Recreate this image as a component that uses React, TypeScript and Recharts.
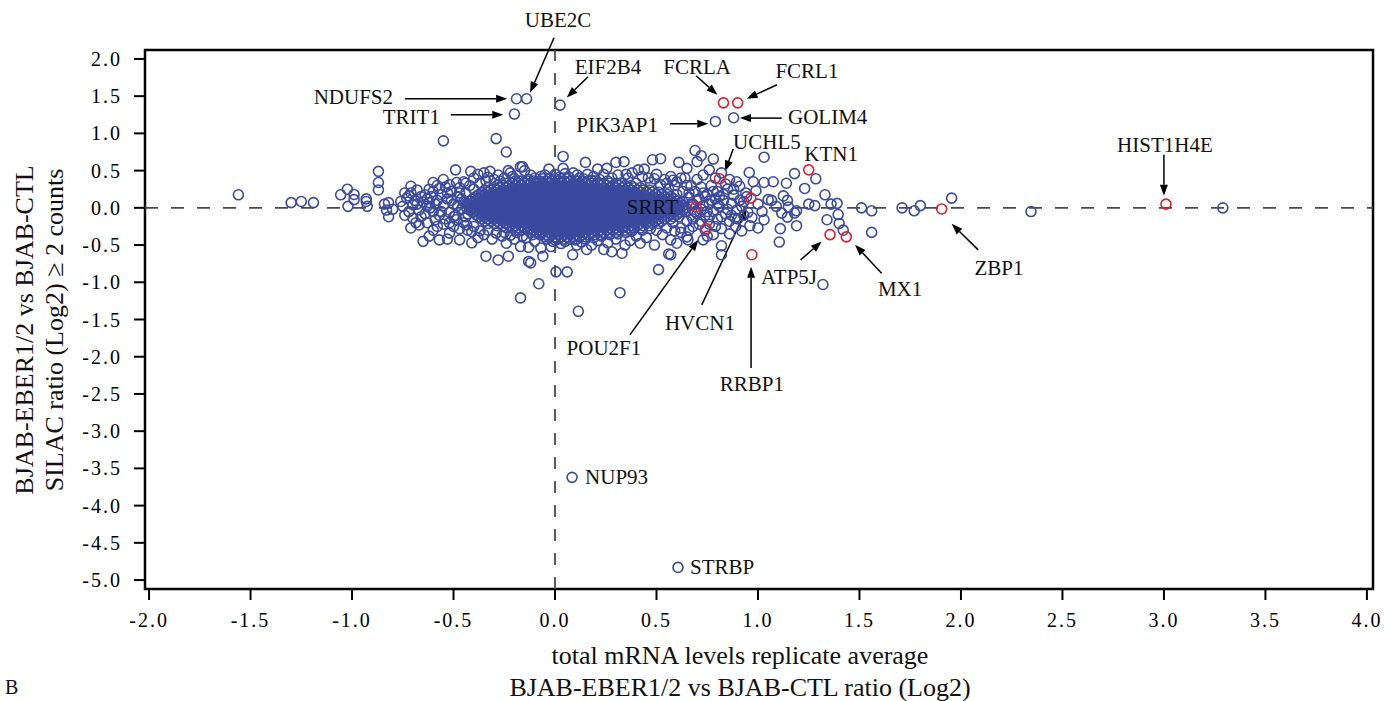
import { ScatterChart, Scatter, XAxis, YAxis, ReferenceLine, ReferenceDot, ReferenceArea } from "recharts";

const SERIF = "'Liberation Serif', 'Times New Roman', serif";
const BLUE = "#3b4a9e";
const RED = "#e0202b";

const xTicks = [-2, -1.5, -1, -0.5, 0, 0.5, 1, 1.5, 2, 2.5, 3, 3.5, 4];
const yTicks = [2, 1.5, 1, 0.5, 0, -0.5, -1, -1.5, -2, -2.5, -3, -3.5, -4, -4.5, -5];

// dense centre of the cloud, read row by row: [y, x values]
const coreRows: [number, number[]][] = [
  [0.39, [-.06, -.03, 0, .03, .06]],
  [0.36, [-.195, -.165, -.135, -.105, -.075, -.045, -.015, .015, .045, .075, .105, .135, .165, .195]],
  [0.33, [-.24, -.21, -.18, -.15, -.12, -.09, -.06, -.03, 0, .03, .06, .09, .12, .15, .18, .21, .24, .27, .3]],
  [0.3, [-.285, -.255, -.225, -.195, -.165, -.135, -.105, -.075, -.045, -.015, .015, .045, .075, .105, .135, .165, .195, .225, .255, .285, .315, .345, .375]],
  [0.27, [-.33, -.3, -.27, -.24, -.21, -.18, -.15, -.12, -.09, -.06, -.03, 0, .03, .06, .09, .12, .15, .18, .21, .24, .27, .3, .33, .36, .39, .42]],
  [0.24, [-.345, -.315, -.285, -.255, -.225, -.195, -.165, -.135, -.105, -.075, -.045, -.015, .015, .045, .075, .105, .135, .165, .195, .225, .255, .285, .315, .345, .375, .405, .435, .465]],
  [0.21, [-.36, -.33, -.3, -.27, -.24, -.21, -.18, -.15, -.12, -.09, -.06, -.03, 0, .03, .06, .09, .12, .15, .18, .21, .24, .27, .3, .33, .36, .39, .42, .45, .48, .51]],
  [0.18, [-.375, -.345, -.315, -.285, -.255, -.225, -.195, -.165, -.135, -.105, -.075, -.045, -.015, .015, .045, .075, .105, .135, .165, .195, .225, .255, .285, .315, .345, .375, .405, .435, .465, .495, .525, .555]],
  [0.15, [-.39, -.36, -.33, -.3, -.27, -.24, -.21, -.18, -.15, -.12, -.09, -.06, -.03, 0, .03, .06, .09, .12, .15, .18, .21, .24, .27, .3, .33, .36, .39, .42, .45, .48, .51, .54, .57]],
  [0.12, [-.405, -.375, -.345, -.315, -.285, -.255, -.225, -.195, -.165, -.135, -.105, -.075, -.045, -.015, .015, .045, .075, .105, .135, .165, .195, .225, .255, .285, .315, .345, .375, .405, .435, .465, .495, .525, .555, .585]],
  [0.09, [-.42, -.39, -.36, -.33, -.3, -.27, -.24, -.21, -.18, -.15, -.12, -.09, -.06, -.03, 0, .03, .06, .09, .12, .15, .18, .21, .24, .27, .3, .33, .36, .39, .42, .45, .48, .51, .54, .57, .6]],
  [0.06, [-.435, -.405, -.375, -.345, -.315, -.285, -.255, -.225, -.195, -.165, -.135, -.105, -.075, -.045, -.015, .015, .045, .075, .105, .135, .165, .195, .225, .255, .285, .315, .345, .375, .405, .435, .465, .495, .525, .555, .585, .615]],
  [0.03, [-.42, -.39, -.36, -.33, -.3, -.27, -.24, -.21, -.18, -.15, -.12, -.09, -.06, -.03, 0, .03, .06, .09, .12, .15, .18, .21, .24, .27, .3, .33, .36, .39, .42, .45, .48, .51, .54, .57, .6, .63]],
  [0, [-.435, -.405, -.375, -.345, -.315, -.285, -.255, -.225, -.195, -.165, -.135, -.105, -.075, -.045, -.015, .015, .045, .075, .105, .135, .165, .195, .225, .255, .285, .315, .345, .375, .405, .435, .465, .495, .525, .555, .585, .615, .645]],
  [-0.03, [-.42, -.39, -.36, -.33, -.3, -.27, -.24, -.21, -.18, -.15, -.12, -.09, -.06, -.03, 0, .03, .06, .09, .12, .15, .18, .21, .24, .27, .3, .33, .36, .39, .42, .45, .48, .51, .54, .57, .6, .63]],
  [-0.06, [-.405, -.375, -.345, -.315, -.285, -.255, -.225, -.195, -.165, -.135, -.105, -.075, -.045, -.015, .015, .045, .075, .105, .135, .165, .195, .225, .255, .285, .315, .345, .375, .405, .435, .465, .495, .525, .555, .585, .615]],
  [-0.09, [-.39, -.36, -.33, -.3, -.27, -.24, -.21, -.18, -.15, -.12, -.09, -.06, -.03, 0, .03, .06, .09, .12, .15, .18, .21, .24, .27, .3, .33, .36, .39, .42, .45, .48, .51, .54, .57, .6]],
  [-0.12, [-.375, -.345, -.315, -.285, -.255, -.225, -.195, -.165, -.135, -.105, -.075, -.045, -.015, .015, .045, .075, .105, .135, .165, .195, .225, .255, .285, .315, .345, .375, .405, .435, .465, .495, .525, .555, .585]],
  [-0.15, [-.36, -.33, -.3, -.27, -.24, -.21, -.18, -.15, -.12, -.09, -.06, -.03, 0, .03, .06, .09, .12, .15, .18, .21, .24, .27, .3, .33, .36, .39, .42, .45, .48, .51, .54, .57]],
  [-0.18, [-.345, -.315, -.285, -.255, -.225, -.195, -.165, -.135, -.105, -.075, -.045, -.015, .015, .045, .075, .105, .135, .165, .195, .225, .255, .285, .315, .345, .375, .405, .435, .465, .495, .525]],
  [-0.21, [-.33, -.3, -.27, -.24, -.21, -.18, -.15, -.12, -.09, -.06, -.03, 0, .03, .06, .09, .12, .15, .18, .21, .24, .27, .3, .33, .36, .39, .42, .45, .48, .51]],
  [-0.24, [-.285, -.255, -.225, -.195, -.165, -.135, -.105, -.075, -.045, -.015, .015, .045, .075, .105, .135, .165, .195, .225, .255, .285, .315, .345, .375, .405, .435, .465]],
  [-0.27, [-.24, -.21, -.18, -.15, -.12, -.09, -.06, -.03, 0, .03, .06, .09, .12, .15, .18, .21, .24, .27, .3, .33, .36, .39, .42]],
  [-0.3, [-.195, -.165, -.135, -.105, -.075, -.045, -.015, .015, .045, .075, .105, .135, .165, .195, .225, .255, .285, .315, .345, .375]],
  [-0.33, [-.12, -.09, -.06, -.03, 0, .03, .06, .09, .12, .15, .18, .21, .24, .27, .3]],
  [-0.36, [-.075, -.045, -.015, .015, .045, .075, .105, .135, .165, .195, .225]],
  [-0.39, [-.03, 0, .03, .06, .09, .12, .15]],
  [-0.42, [.015, .045, .075, .105]],
];

const leftTail: [number, number][] = [
  [-1.56, .175], [-1.3, .07], [-1.25, .085], [-1.19, .07], [-1.056, .175], [-1.023, .25], [-.99, .18], [-.99, .11],
  [-1.02, .02], [-.93, .12], [-.93, .085], [-.925, .02], [-.87, .49], [-.87, .34], [-.87, .24], [-.84, .05],
  [-.82, .07], [-.83, -.03], [-.8, -.02], [-.82, -.12], [-.76, .085], [-.74, .2], [-.73, .13], [-.71, .29],
  [-.71, .2], [-.7, .04], [-.71, -.27], [-.685, -.2], [-.67, -.23], [-.65, -.45], [-.64, .175], [-.63, .12],
  [-.615, 0], [-.6, .34], [-.59, -.16], [-.6, -.05], [-.57, -.43], [-.53, -.42], [-.52, -.34], [-.49, .51],
  [-.485, .34], [-.47, -.43], [-.44, .33], [-.415, .49], [-.4, .4], [-.41, -.47], [-.485, -.16], [-.435, -.23],
  [-.41, -.32], [-.66, .15], [-.62, .07], [-.58, .1], [-.56, .18], [-.55, .03], [-.53, .12], [-.52, -.06],
  [-.51, .22], [-.5, .05], [-.49, -.1], [-.48, .15], [-.47, .27], [-.46, -.02], [-.45, .08], [-.45, -.2],
  [-.44, .2], [-.43, -.08], [-.57, -.1], [-.6, .22], [-.64, -.08], [-.68, .05], [-.55, -.22], [-.5, -.25],
  [-.54, .28], [-.58, .3], [-.62, .25], [-.66, -.12], [-.63, .02], [-.72, -.05], [-.69, .1], [-.75, .02],
  [-.74, -.1], [-.72, .16], [-.7, -.14], [-.68, .24], [-.67, -.03], [-.65, .08], [-.63, -.2], [-.61, .15],
  [-.59, .05], [-.57, .26], [-.56, -.05], [-.54, -.15], [-.53, .2], [-.51, .1], [-.5, -.12], [-.48, .03],
  [-.47, -.28], [-.46, .12], [-.45, .35], [-.44, -.12], [-.43, .05], [-.47, .2], [-.52, .31], [-.55, .38],
  [-.6, -.3], [-.62, -.38], [-.58, -.25], [-.52, -.2],
];

const upperHalo: [number, number][] = [
  [-.38, .45], [-.35, .47], [-.33, .41], [-.3, .38], [-.28, .44], [-.25, .4], [-.22, .47], [-.2, .39],
  [-.17, .55], [-.15, .5], [-.12, .44], [-.1, .4], [-.07, .42], [-.03, .52], [0, .45], [.04, .53],
  [.07, .41], [.09, .47], [.12, .4], [.16, .45], [.19, .42], [.21, .52], [.24, .45], [.255, .53],
  [.28, .4], [.31, .44], [.36, .4], [.38, .47], [.41, .51], [.44, .52], [.46, .4], [.5, .45],
  [.54, .38], [.57, .42], [.6, .35], [.64, .4], [.67, .3], [.65, .53], [.73, .44], [.76, .51],
  [.82, .47], [.86, .38], [.48, .645], [.52, .66], [.3, .61], [.34, .62], [.61, .61], [.15, .61],
  [-.16, .55], [-.23, .5], [-.32, .49],
  [-.42, .3], [-.4, .25], [-.37, .33], [-.34, .36], [-.27, .36], [-.21, .42], [-.18, .36], [-.13, .38],
  [-.05, .44], [.02, .41], [.05, .46], [.11, .44], [.14, .39], [.18, .37], [.22, .38], [.26, .36],
  [.33, .34], [.35, .45], [.4, .33], [.43, .42], [.47, .34], [.49, .39], [.52, .31], [.55, .33],
  [.58, .37],
];

const lowerHalo: [number, number][] = [
  [-.38, -.4], [-.35, -.36], [-.34, -.65], [-.31, -.42], [-.28, -.7], [-.26, -.38], [-.24, -.475], [-.23, -.65],
  [-.2, -.42], [-.17, -.52], [-.14, -.4], [-.13, -.53], [-.13, -.72], [-.12, -.74], [-.1, -.45], [-.07, -.54],
  [-.06, -.65], [-.04, -.42], [-.02, -.52], [-.01, -.45], [.03, -.48], [.087, -.63], [.107, -.5], [.13, -.46],
  [.156, -.56], [.18, -.5], [.21, -.44], [.24, -.56], [.26, -.47], [.28, -.59], [.3, -.42], [.33, -.61],
  [.345, -.5], [.37, -.44], [.4, -.38], [.42, -.475], [.45, -.4], [.49, -.5], [.53, -.36], [.57, -.43],
  [.57, -.63], [.6, -.475], [.62, -.33], [.655, -.43], [.65, -.39], [.73, -.43], [.78, -.36], [.82, -.51],
  [.82, -.63], [.56, -.62], [.51, -.83],
  [-.43, -.3], [-.4, -.25], [-.37, -.31], [-.33, -.3], [-.29, -.34], [-.25, -.33], [-.22, -.37], [-.19, -.33],
  [-.16, -.38], [-.11, -.36], [-.05, -.39], [0, -.43], [.05, -.45], [.1, -.43], [.15, -.42], [.19, -.4],
  [.23, -.38], [.27, -.36], [.31, -.35], [.35, -.33], [.38, -.31], [.43, -.3], [.47, -.28], [.5, -.3],
  [.55, -.27], [.59, -.31],
];

const midRight: [number, number][] = [
  [.56, .25], [.57, .1], [.58, -.05], [.58, -.2], [.59, .3], [.6, .18], [.61, .03], [.61, -.12],
  [.62, -.27], [.63, .22], [.63, .08], [.64, -.05], [.65, -.18], [.65, .3], [.66, .14], [.67, -.1],
  [.68, .05], [.68, -.25], [.69, .22], [.7, -.08], [.71, .12], [.72, .28], [.72, -.18], [.73, .03],
  [.74, -.1], [.75, .18], [.76, .05], [.76, -.22], [.77, .3], [.78, -.05], [.79, .12], [.8, -.15],
  [.8, .22], [.81, .02], [.82, -.28], [.83, .1], [.84, -.08], [.85, .25], [.86, -.18], [.87, .06],
  [.88, .17], [.887, -.14], [.895, -.03], [.93, .085], [.944, .15], [.91, .29], [.895, .35], [.977, .35],
  [.957, .475], [.96, -.24], [1, -.27], [.92, -.31], [1.03, -.16], [.97, -.13], [.99, .23], [.7, .38],
  [.66, -.3], [.74, -.3], [.79, -.25], [.84, .32], [.89, -.25], [.92, .02], [.95, -.06], [.69, .77],
  [.72, .7], [.78, .655], [.7, .62], [.79, .4], [.75, -.38], [.86, -.35], [.69, -.05], [.74, .15],
  [.62, .4], [.66, .2], [.68, -.15], [.7, .1], [.71, -.22], [.73, .2], [.75, -.05], [.77, .1],
  [.78, .22], [.8, .05], [.82, -.12], [.83, .18], [.85, -.02], [.87, -.1], [.88, .25], [.9, -.15],
  [.91, .1], [.93, -.1], [.94, .2], [.67, .05], [.72, -.02], [.76, -.12], [.81, .15],
];

const rightSide: [number, number][] = [
  [1.03, .68], [1.03, .34], [1.075, .35], [1.14, .33], [1.18, .46], [1.23, .26], [1.285, .39], [1.33, .175],
  [1.36, .05], [1.25, .05], [1.28, .03], [1.125, .16], [1.067, .1], [1.145, .1], [1.19, -.04], [1.145, -.125],
  [1.11, -.28], [1.19, -.24], [1.34, -.16], [1.395, -.09], [1.4, -.21], [1.42, -.3], [1.56, -.33], [1.51, 0],
  [1.56, -.04], [1.105, -.46], [1.05, .11], [1.09, .02], [1.117, -.07], [1.15, .01], [1.18, -.07], [1.39, .06],
  [1, .05], [1.02, -.05], [1.71, 0], [1.77, -.04], [1.8, .03], [1.954, .13], [2.345, -.05], [3.29, 0],
];

const outliers: [number, number][] = [
  [-.55, .9], [-.29, .93], [-.24, .75], [.04, .69], [-.17, -1.21], [-.08, -1.02], [.005, -.86], [.06, -.86],
  [.32, -1.14], [.115, -1.39], [1.32, -1.03],
];

const namedBlue = [
  { name: "NDUFS2", x: -0.19, y: 1.465 },
  { name: "UBE2C", x: -0.14, y: 1.465 },
  { name: "TRIT1", x: -0.2, y: 1.26 },
  { name: "EIF2B4", x: 0.025, y: 1.38 },
  { name: "GOLIM4", x: 0.88, y: 1.21 },
  { name: "PIK3AP1", x: 0.79, y: 1.16 },
  { name: "NUP93", x: 0.084, y: -3.62 },
  { name: "STRBP", x: 0.606, y: -4.83 },
];

const namedRed = [
  { name: "FCRLA", x: 0.83, y: 1.41 },
  { name: "FCRL1", x: 0.9, y: 1.41 },
  { name: "UCHL5", x: 0.81, y: 0.39 },
  { name: "KTN1", x: 1.25, y: 0.51 },
  { name: "SRRT", x: 0.695, y: 0.015 },
  { name: "HVCN1", x: 0.965, y: 0.13 },
  { name: "POU2F1", x: 0.745, y: -0.28 },
  { name: "RRBP1", x: 0.97, y: -0.63 },
  { name: "ATP5J", x: 1.355, y: -0.36 },
  { name: "MX1", x: 1.435, y: -0.39 },
  { name: "ZBP1", x: 1.905, y: -0.015 },
  { name: "HIST1H4E", x: 3.01, y: 0.05 },
];

// annotation layout (data coordinates)
const labels: { text: string; x: number; y: number; anchor: "start" | "middle" | "end" }[] = [
  { text: "UBE2C", x: 0.015, y: 2.527, anchor: "middle" },
  { text: "NDUFS2", x: -0.798, y: 1.49, anchor: "end" },
  { text: "TRIT1", x: -0.567, y: 1.223, anchor: "end" },
  { text: "EIF2B4", x: 0.261, y: 1.895, anchor: "middle" },
  { text: "FCRLA", x: 0.7, y: 1.895, anchor: "middle" },
  { text: "FCRL1", x: 1.241, y: 1.841, anchor: "middle" },
  { text: "GOLIM4", x: 1.148, y: 1.223, anchor: "start" },
  { text: "PIK3AP1", x: 0.507, y: 1.116, anchor: "end" },
  { text: "UCHL5", x: 1.044, y: 0.887, anchor: "middle" },
  { text: "KTN1", x: 1.36, y: 0.726, anchor: "middle" },
  { text: "SRRT", x: 0.606, y: 0.013, anchor: "end" },
  { text: "HVCN1", x: 0.714, y: -1.546, anchor: "middle" },
  { text: "POU2F1", x: 0.241, y: -1.882, anchor: "middle" },
  { text: "RRBP1", x: 0.97, y: -2.366, anchor: "middle" },
  { text: "ATP5J", x: 1.153, y: -0.927, anchor: "middle" },
  { text: "MX1", x: 1.7, y: -1.089, anchor: "middle" },
  { text: "ZBP1", x: 2.187, y: -0.806, anchor: "middle" },
  { text: "HIST1H4E", x: 3.005, y: 0.847, anchor: "middle" },
  { text: "NUP93", x: 0.148, y: -3.616, anchor: "start" },
  { text: "STRBP", x: 0.665, y: -4.825, anchor: "start" },
];

const arrows: [number, number, number, number][] = [
  [-0.005, 2.285, -0.123, 1.545],
  [-0.739, 1.465, -0.236, 1.465],
  [-0.513, 1.25, -0.255, 1.25],
  [0.163, 1.76, 0.058, 1.483],
  [0.695, 1.774, 0.8, 1.519],
  [1.094, 1.653, 0.944, 1.465],
  [1.117, 1.205, 0.911, 1.205],
  [0.567, 1.129, 0.755, 1.129],
  [0.878, 0.789, 0.837, 0.488],
  [0.723, -1.304, 0.944, -0.017],
  [0.369, -1.707, 0.706, -0.43],
  [0.966, -2.15, 0.966, -0.79],
  [1.21, -0.699, 1.314, -0.453],
  [1.609, -0.878, 1.478, -0.497],
  [2.085, -0.565, 1.954, -0.215],
  [3.0, 0.712, 3.0, 0.161],
];

const toPts = (arr: [number, number][]) => arr.map(([x, y]) => ({ x, y }));
const cloud = [
  ...coreRows.flatMap(([y, xs]) => xs.map((x) => ({ x, y }))),
  ...toPts(leftTail),
  ...toPts(upperHalo),
  ...toPts(lowerHalo),
  ...toPts(midRight),
  ...toPts(rightSide),
  ...toPts(outliers),
];

const ring = (color: string) => (p: any) => (
  <circle cx={p.cx} cy={p.cy} r={5} fill="none" stroke={color} strokeWidth={1.6} />
);

const XTick = (p: any) => (
  <text x={p.x} y={p.y} dy="0.75em" textAnchor="middle" fontFamily={SERIF} fontSize={20} letterSpacing={2} fill="#000">
    {Number(p.payload.value).toFixed(1)}
  </text>
);

const YTick = (p: any) => (
  <text x={p.x} y={p.y} dy="0.35em" textAnchor="end" fontFamily={SERIF} fontSize={20} letterSpacing={2} fill="#000">
    {Number(p.payload.value).toFixed(1)}
  </text>
);

const Arrow = (p: any) => {
  const { x1, y1, x2, y2 } = p;
  const a = Math.atan2(y2 - y1, x2 - x1);
  const L = 11;
  const W = 4;
  const bx = x2 - L * Math.cos(a);
  const by = y2 - L * Math.sin(a);
  const ox = -Math.sin(a) * W;
  const oy = Math.cos(a) * W;
  return (
    <g>
      <line x1={x1} y1={y1} x2={bx} y2={by} stroke="#000" strokeWidth={1.5} />
      <polygon points={`${x2},${y2} ${bx + ox},${by + oy} ${bx - ox},${by - oy}`} fill="#000" />
    </g>
  );
};

export default function App() {
  return (
    <div style={{ position: "absolute", left: 0, top: 0, width: 1385, height: 701, background: "#fff" }}>
      <ScatterChart width={1385} height={701} margin={{ top: 50, right: 12, bottom: 0, left: 0 }}>
        <XAxis
          type="number"
          dataKey="x"
          domain={[-2.02, 4.03]}
          ticks={xTicks}
          interval={0}
          allowDataOverflow
          height={112}
          axisLine={false}
          tickLine={{ stroke: "#000", strokeWidth: 2 }}
          tickSize={11}
          tickMargin={12}
          tick={<XTick />}
        />
        <YAxis
          type="number"
          dataKey="y"
          domain={[-5.12, 2.12]}
          ticks={yTicks}
          interval={0}
          allowDataOverflow
          width={145}
          axisLine={false}
          tickLine={{ stroke: "#000", strokeWidth: 2 }}
          tickSize={11}
          tickMargin={12}
          tick={<YTick />}
        />
        <ReferenceLine y={0} stroke="#4a4a4a" strokeWidth={1.8} strokeDasharray="13 13" />
        <ReferenceLine x={0} stroke="#4a4a4a" strokeWidth={1.8} strokeDasharray="12 12" />
        <Scatter data={cloud} shape={ring(BLUE)} isAnimationActive={false} />
        <Scatter data={namedBlue} shape={ring(BLUE)} isAnimationActive={false} />
        <Scatter data={namedRed} shape={ring(RED)} isAnimationActive={false} />
        <ReferenceArea x1={-2.02} x2={4.03} y1={-5.12} y2={2.12} fill="none" stroke="#000" strokeWidth={2.5} ifOverflow="visible" />
        {arrows.map(([xa, ya, xb, yb], i) => (
          <ReferenceLine
            key={`arrow-${i}`}
            segment={[{ x: xa, y: ya }, { x: xb, y: yb }]}
            ifOverflow="visible"
            shape={(p: any) => <Arrow {...p} />}
          />
        ))}
        {labels.map((l) => (
          <ReferenceDot
            key={`label-${l.text}`}
            x={l.x}
            y={l.y}
            r={0}
            ifOverflow="visible"
            shape={(p: any) => (
              <text x={p.cx} y={p.cy} dy="0.35em" textAnchor={l.anchor} fontFamily={SERIF} fontSize={21} fill="#111">
                {l.text}
              </text>
            )}
          />
        ))}
        <text x={740} y={655} dy="0.35em" textAnchor="middle" fontFamily={SERIF} fontSize={26} fill="#111">
          total mRNA levels replicate average
        </text>
        <text x={740} y={687} dy="0.35em" textAnchor="middle" fontFamily={SERIF} fontSize={26} fill="#111">
          BJAB-EBER1/2 vs BJAB-CTL ratio (Log2)
        </text>
        <text transform="rotate(-90)" x={-330} y={33} textAnchor="middle" fontFamily={SERIF} fontSize={26} fill="#111">
          BJAB-EBER1/2 vs BJAB-CTL
        </text>
        <text transform="rotate(-90)" x={-330} y={63} textAnchor="middle" fontFamily={SERIF} fontSize={26} fill="#111">
          SILAC ratio (Log2) ≥ 2 counts
        </text>
        <text x={5} y={694} fontFamily={SERIF} fontSize={20} fill="#111">
          B
        </text>
      </ScatterChart>
    </div>
  );
}
